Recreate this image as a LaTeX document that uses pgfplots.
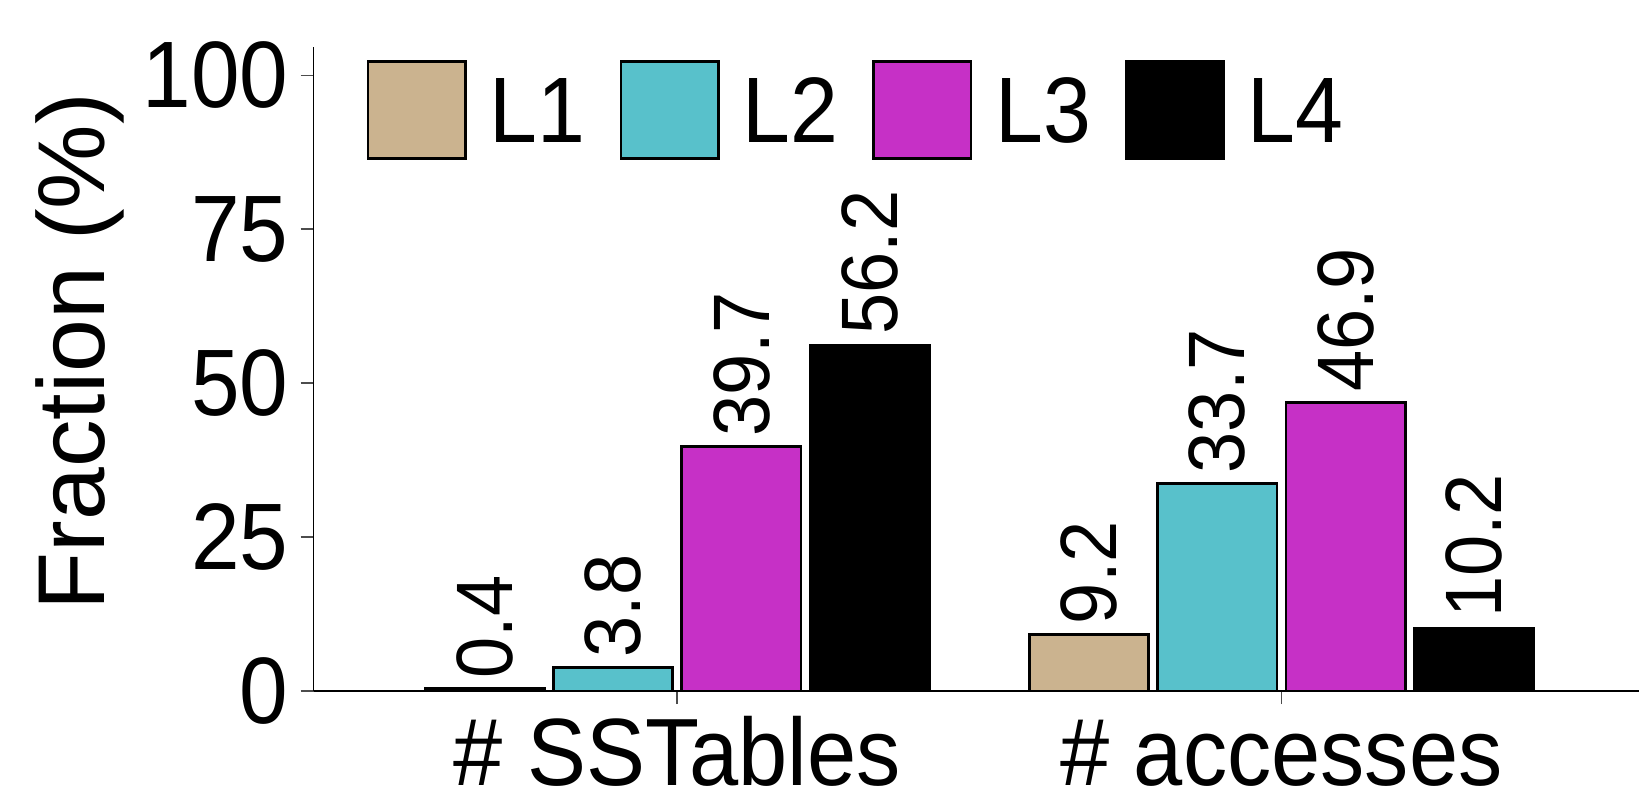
\documentclass[border=0pt]{standalone}
\usepackage{fontspec}
\setmainfont{Liberation Sans}[FakeStretch=0.925]
\newfontfamily\ylfont{Liberation Sans}
\usepackage{pgfplots}
\pgfplotsset{compat=1.18}
\definecolor{cA}{RGB}{203,179,143}
\definecolor{cB}{RGB}{88,193,203}
\definecolor{cC}{RGB}{198,48,198}
\definecolor{cD}{RGB}{0,0,0}
\begin{document}
\begin{tikzpicture}
\useasboundingbox (-156.8pt,-56pt) rectangle (662.7pt,345.5pt);
\begin{axis}[
  at={(0pt,0pt)}, anchor=south west,
  scale only axis, width=662.7pt, height=322pt,
  /pgf/number format/assume math mode=true,
  font=\fontsize{47.2}{50}\selectfont,
  axis lines=left, axis line style={-, line width=0.8pt},
  xmin=-0.602, xmax=1.592, ymin=0, ymax=104.6,
  xtick={0,1}, xticklabels={\# SSTables, \# accesses},
  ytick={0,25,50,75,100},
  tick align=outside, major tick length=6.5pt,
  tick style={line width=0.8pt, black!70},
  yticklabel style={inner sep=0pt, xshift=-6pt},
  xticklabel style={anchor=base, inner sep=0pt, yshift=-40.5pt, font=\fontsize{47.8}{50}\selectfont},
  ylabel={Fraction (\%)},
  ylabel style={at={(axis description cs:-0.1578,0.527)}, anchor=base, inner sep=0pt, font=\ylfont\fontsize{47.5}{50}\selectfont},
  ybar, clip=false,
  nodes near coords,
  every node near coord/.append style={font=\fontsize{40}{44}\selectfont, rotate=90, anchor=west, inner xsep=4.5pt, inner ysep=0pt, black},
  legend columns=4,
  legend image code/.code={\draw[#1, line width=1.3pt] (0pt,-23.45pt) rectangle (48.7pt,25.25pt);},
  legend style={at={(axis description cs:0,0.9022)}, anchor=west, xshift=26.45pt,
    draw=none, fill=none, inner sep=0pt, nodes={inner sep=0pt},
    column sep=11.5pt,
    /tikz/every even column/.append style={column sep=17pt},
    font=\fontsize{46.5}{50}\selectfont},
]
\addplot[fill=cA, draw=black, line width=1.3pt, bar width=59.7pt, bar shift=-96.2pt] coordinates {(0,0.4) (1,9.2)};
\addplot[fill=cB, draw=black, line width=1.3pt, bar width=59.7pt, bar shift=-32.1pt] coordinates {(0,3.8) (1,33.7)};
\addplot[fill=cC, draw=black, line width=1.3pt, bar width=59.7pt, bar shift=32.1pt] coordinates {(0,39.7) (1,46.9)};
\addplot[fill=cD, draw=black, line width=1.3pt, bar width=59.7pt, bar shift=96.2pt] coordinates {(0,56.2) (1,10.2)};
\legend{L1,L2,L3,L4}
\end{axis}
\end{tikzpicture}
\end{document}
